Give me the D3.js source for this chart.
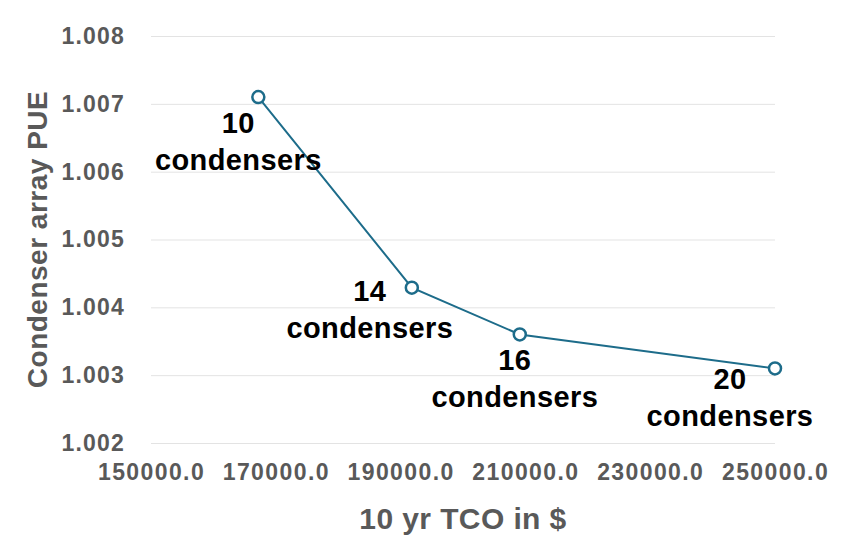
<!DOCTYPE html>
<html>
<head>
<meta charset="utf-8">
<script src="https://cdn.jsdelivr.net/npm/d3@7"></script>
<style>
  body { margin: 0; background: #fff; }
  text { font-family: "Liberation Sans", Arial, sans-serif; font-weight: bold; }
</style>
</head>
<body>
<div id="chart"></div>
<script>
// data
const tco = [167200, 191800, 209100, 250000];
const pue = [1.00710, 1.00429, 1.00360, 1.00310];
const counts = ["10", "14", "16", "20"];
const xTicks = [150000, 170000, 190000, 210000, 230000, 250000];
const yTicks = [1.002, 1.003, 1.004, 1.005, 1.006, 1.007, 1.008];

// label placement relative to each point (pixels)
const labelDx = [-20, -42, -5, -45];
const labelDy = [36, 13, 36, 21];

const width = 865, height = 548;
const margin = { top: 36, right: 90, bottom: 105, left: 151 };
const w = width - margin.left - margin.right;
const h = height - margin.top - margin.bottom;

const svg = d3.select("#chart")
  .append("svg")
  .attr("width", width)
  .attr("height", height);

const g = svg.append("g")
  .attr("transform", `translate(${margin.left},${margin.top})`);

const x = d3.scaleLinear().domain([150000, 250000]).range([0, w]);
const y = d3.scaleLinear().domain([1.002, 1.008]).range([h, 0]);

// horizontal gridlines + y tick labels
const yAxis = g.append("g")
  .call(d3.axisLeft(y).tickValues(yTicks).tickFormat(d3.format(".3f"))
    .tickSize(-w).tickPadding(26));
yAxis.select(".domain").remove();
yAxis.selectAll("line").attr("stroke", "#e3e3e3").attr("stroke-width", 1);
yAxis.selectAll("text")
  .attr("fill", "#595959")
  .style("font-size", "23px")
  .style("letter-spacing", "1.2px");

// x tick labels (no vertical grid)
const xAxis = g.append("g")
  .attr("transform", `translate(0,${h})`)
  .call(d3.axisBottom(x).tickValues(xTicks).tickFormat(d3.format(".1f"))
    .tickSize(0).tickPadding(21));
xAxis.select(".domain").remove();
xAxis.selectAll("text")
  .attr("fill", "#595959")
  .style("font-size", "23px")
  .style("letter-spacing", "1.4px");

// axis titles
svg.append("text")
  .attr("transform", `translate(47,${margin.top + h / 2}) rotate(-90)`)
  .attr("text-anchor", "middle")
  .attr("fill", "#595959")
  .style("font-size", "28px")
  .style("letter-spacing", "0.5px")
  .text("Condenser array PUE");

svg.append("text")
  .attr("x", margin.left + w / 2)
  .attr("y", 529)
  .attr("text-anchor", "middle")
  .attr("fill", "#595959")
  .style("font-size", "30px")
  .style("letter-spacing", "0.4px")
  .text("10 yr TCO in $");

const points = tco.map((d, i) => ({ x: d, y: pue[i], n: counts[i], dx: labelDx[i], dy: labelDy[i] }));

const line = d3.line().x(d => x(d.x)).y(d => y(d.y));

g.append("path")
  .datum(points)
  .attr("d", line)
  .attr("fill", "none")
  .attr("stroke", "#1d6c8a")
  .attr("stroke-width", 2);

g.selectAll("circle")
  .data(points)
  .enter()
  .append("circle")
  .attr("cx", d => x(d.x))
  .attr("cy", d => y(d.y))
  .attr("r", 6)
  .attr("fill", "#fff")
  .attr("stroke", "#1d6c8a")
  .attr("stroke-width", 2.5);

// data labels
const labels = g.selectAll(".lbl")
  .data(points)
  .enter()
  .append("text")
  .attr("class", "lbl")
  .attr("text-anchor", "middle")
  .attr("fill", "#000")
  .style("font-size", "29px")
  .style("letter-spacing", "0.4px");

labels.append("tspan")
  .attr("x", d => x(d.x) + d.dx)
  .attr("y", d => y(d.y) + d.dy)
  .text(d => d.n);

labels.append("tspan")
  .attr("x", d => x(d.x) + d.dx)
  .attr("y", d => y(d.y) + d.dy + 37)
  .text("condensers");
</script>
</body>
</html>
